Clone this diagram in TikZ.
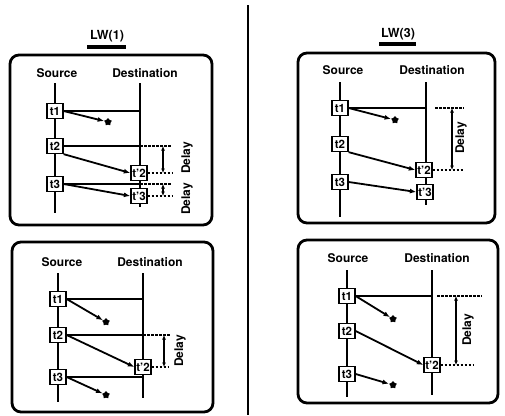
\documentclass[tikz,border=0pt]{standalone}
\usepackage{fontspec}
\setmainfont{TeX Gyre Heros}
\usetikzlibrary{arrows.meta,shapes.geometric}

\begin{document}
\begin{tikzpicture}[x=1pt, y=-1pt,
    frame/.style={line width=2.8pt, rounded corners=9pt},
    lbl/.style={font=\bfseries\fontsize{12}{14}\selectfont},
    ttl/.style={font=\bfseries\fontsize{12.5}{14}\selectfont},
    tick/.style={draw, line width=1.3pt, fill=white, minimum width=16pt, minimum height=15pt, inner sep=0pt, font=\bfseries\fontsize{11.5}{12}\selectfont},
    life/.style={line width=1.4pt},
    arr/.style={-{Latex[length=6.5pt,width=5pt]}, line width=1.8pt},
    guide/.style={dash pattern=on 2.5pt off 1.5pt, line width=1.2pt},
    darr/.style={{Latex[length=4.5pt,width=4pt]}-{Latex[length=4.5pt,width=4pt]}, line width=1.2pt},
    starmark/.style={star, star points=5, fill, inner sep=0pt, minimum size=8pt}
]
\useasboundingbox (0,0) rectangle (505,415);

% titles and divider
\node[ttl] (lw1) at (107,36) {LW(1)};
\node[ttl] (lw3) at (398,34) {LW(3)};
\draw[line width=3.8pt] (87,47) -- (126,47);
\draw[line width=3.8pt] (379,44) -- (416,44);
\draw[line width=1.4pt] (248,5) -- (248,415);

% LW(1), upper
\draw[frame] (10,55) rectangle (212,225);
\node[lbl] (srcA) at (57,73) {Source};
\node[lbl] (dstA) at (145,73) {Destination};
\coordinate (sa) at (55,83);
\coordinate (da) at (140,83);
\draw[life] (sa) -- (55,213);
\draw[life] (da) -- (140,207);
\node[tick] (ta1) at (55,111) {t1};
\node[tick] (ta2) at (55,146) {t2};
\node[tick] (ta3) at (55,184) {t3};
\node[tick] (ra2) at (139,173) {t'2};
\node[tick] (ra3) at (139,196) {t'3};
\node[starmark] (sa1) at (108,122) {};
\draw[life] (ta1.east) -- (ta1.east -| da);
\draw[life] (ta2.east) -- (ta2.east -| da);
\draw[life] (ta3.east) -- (ta3.east -| da);
\draw[arr] (ta1.east) -- (sa1);
\draw[arr] (ta2.south east) -- (ra2.west);
\draw[arr] (ta3.east) -- (ra3.west);
\draw[guide] (ta2.east -| da) -- ++(32,0);
\draw[guide] (ra2.east) -- (172,173);
\draw[guide] (ta3.east -| da) -- ++(32,0);
\draw[guide] (ra3.east) -- (172,196);
\coordinate (a1t) at (163,146);
\coordinate (a1b) at (163,173);
\coordinate (a2t) at (163,184);
\coordinate (a2b) at (163,196);
\draw[darr] (a1t) -- (a1b);
\draw[darr] (a2t) -- (a2b);
\node[lbl, rotate=90] (dla1) at (187,158) {Delay};
\node[lbl, rotate=90] (dla2) at (187,199) {Delay};

% LW(3), upper
\draw[frame] (298,53) rectangle (495,223);
\node[lbl] (srcB) at (343,70) {Source};
\node[lbl] (dstB) at (432,70) {Destination};
\coordinate (sb) at (340,82);
\coordinate (db) at (426,82);
\draw[life] (sb) -- (340,217);
\draw[life] (db) -- (426,205);
\node[tick] (tb1) at (340,108) {t1};
\node[tick] (tb2) at (340,144) {t2};
\node[tick] (tb3) at (340,182) {t3};
\node[tick] (rb2) at (424,170) {t'2};
\node[tick] (rb3) at (425,192) {t'3};
\node[starmark] (sb1) at (395,120) {};
\draw[life] (tb1.east) -- (tb1.east -| db);
\draw[arr] (tb1.east) -- (sb1);
\draw[arr] (tb2.south east) -- (rb2.west);
\draw[arr] (tb3.east) -- (rb3.west);
\coordinate (gb1) at (435,108);
\draw[guide] (gb1) -- ++(29,0);
\draw[guide] (rb2.east) -- (463,170);
\coordinate (b1t) at (452,108);
\coordinate (b1b) at (452,170);
\draw[darr] (b1t) -- (b1b);
\node[lbl, rotate=90] (dlb1) at (461,138) {Delay};

% LW(1), lower
\draw[frame] (12,242) rectangle (213,412);
\node[lbl] (srcC) at (62,262) {Source};
\node[lbl] (dstC) at (150,262) {Destination};
\coordinate (sc) at (58,273);
\coordinate (dc) at (143,273);
\draw[life] (sc) -- (58,402);
\draw[life] (dc) -- (143,398);
\node[tick] (tc1) at (58,299) {t1};
\node[tick] (tc2) at (58,335) {t2};
\node[tick] (tc3) at (58,377) {t3};
\node[tick] (rc2) at (143,367) {t'2};
\node[starmark] (sc1) at (106,322) {};
\node[starmark] (sc3) at (106,395) {};
\draw[life] (tc1.east) -- (tc1.east -| dc);
\draw[life] (tc2.east) -- (tc2.east -| dc);
\draw[life] (tc3.east) -- (tc3.east -| dc);
\draw[arr] (tc1.east) -- (sc1);
\draw[arr] (tc2.east) -- (rc2.west);
\draw[arr] (tc3.east) -- (sc3);
\draw[guide] (tc2.east -| dc) -- ++(27,0);
\draw[guide] (rc2.east) -- (168,367);
\coordinate (c1t) at (164,335);
\coordinate (c1b) at (164,367);
\draw[darr] (c1t) -- (c1b);
\node[lbl, rotate=90] (dlc1) at (180,351) {Delay};

% LW(3), lower
\draw[frame] (298,240) rectangle (498,403);
\node[lbl] (srcD) at (348,258) {Source};
\node[lbl] (dstD) at (437,258) {Destination};
\coordinate (sd) at (347,270);
\coordinate (dd) at (432,270);
\draw[life] (sd) -- (347,397);
\draw[life] (dd) -- (432,395);
\node[tick] (td1) at (347,296) {t1};
\node[tick] (td2) at (347,331) {t2};
\node[tick] (td3) at (347,374) {t3};
\node[tick] (rd2) at (432,365) {t'2};
\node[starmark] (sd1) at (393,319) {};
\node[starmark] (sd3) at (393,385) {};
\draw[life] (td1.east) -- (td1.east -| dd);
\draw[arr] (td1.east) -- (sd1);
\draw[arr] (td2.east) -- (rd2.west);
\draw[arr] (td3.east) -- (sd3);
\coordinate (gd1) at (437,296);
\draw[guide] (gd1) -- (482,296);
\draw[guide] (rd2.east) -- (473,365);
\coordinate (d1t) at (456,296);
\coordinate (d1b) at (456,365);
\draw[darr] (d1t) -- (d1b);
\node[lbl, rotate=90] (dld1) at (468,330) {Delay};
\end{tikzpicture}
\end{document}
